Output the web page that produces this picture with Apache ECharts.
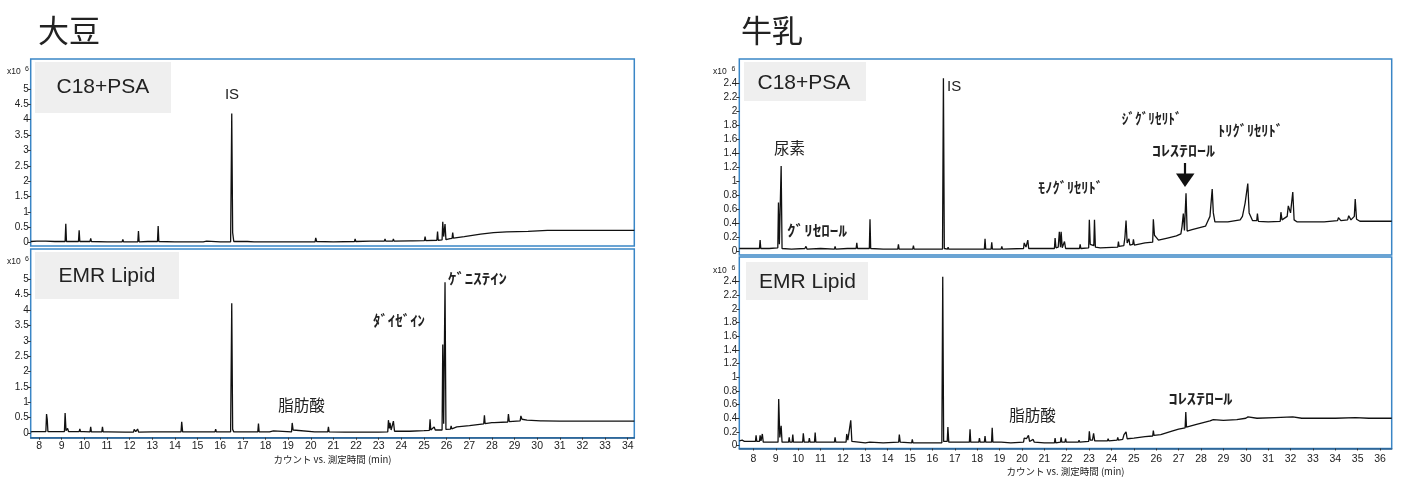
<!DOCTYPE html>
<html><head><meta charset="utf-8">
<script src="https://cdn.jsdelivr.net/npm/echarts@6/dist/echarts.min.js"></script>
<style>html,body{margin:0;padding:0;background:#fff}#c{width:1401px;height:477px}</style>
</head><body><div id="c"></div>
<script>
// ---- tick values ----
const soyTicksX = [8,9,10,11,12,13,14,15,16,17,18,19,20,21,22,23,24,25,26,27,28,29,30,31,32,33,34];
const milkTicksX = [8,9,10,11,12,13,14,15,16,17,18,19,20,21,22,23,24,25,26,27,28,29,30,31,32,33,34,35,36];
const soyTicksY = [0,0.5,1,1.5,2,2.5,3,3.5,4,4.5,5];
const milkTicksY = [0,0.2,0.4,0.6,0.8,1,1.2,1.4,1.6,1.8,2,2.2,2.4];

// ---- chromatograms: [retention time (min), counts x10^6] ----
const soyC18 = [[7.63,0.04],[7.9,0.05],[8.3,0.05],[8.34,0.11],[8.38,0.05],[8.7,0.04],[9.15,0.04],[9.18,0.62],[9.21,0.04],[9.5,0.04],[9.74,0.04],[9.77,0.40],[9.8,0.04],[10.25,0.04],[10.28,0.14],[10.31,0.04],[11.0,0.03],[11.67,0.03],[11.7,0.11],[11.73,0.03],[12.36,0.03],[12.39,0.38],[12.42,0.03],[12.8,0.04],[13.23,0.04],[13.26,0.54],[13.29,0.04],[14.0,0.03],[15.15,0.03],[15.2,0.07],[15.25,0.03],[15.4,0.05],[15.45,0.03],[16.0,0.03],[16.46,0.03],[16.51,4.2],[16.55,0.33],[16.6,0.04],[17.2,0.04],[17.5,0.03],[18.7,0.03],[18.72,0.06],[18.75,0.03],[19.5,0.03],[20.19,0.03],[20.22,0.16],[20.26,0.04],[21.0,0.03],[21.93,0.04],[21.96,0.12],[21.99,0.04],[22.62,0.05],[22.65,0.11],[22.68,0.05],[23.25,0.05],[23.28,0.12],[23.31,0.05],[23.62,0.05],[23.65,0.12],[23.68,0.05],[24.4,0.06],[24.45,0.09],[24.5,0.06],[25.02,0.07],[25.05,0.2],[25.08,0.07],[25.57,0.08],[25.6,0.36],[25.63,0.08],[25.8,0.09],[25.83,0.68],[25.87,0.2],[25.93,0.61],[25.97,0.1],[26.15,0.13],[26.24,0.14],[26.27,0.33],[26.3,0.15],[26.78,0.2],[27.5,0.28],[28.07,0.33],[28.65,0.35],[29.6,0.37],[30.45,0.40],[30.53,0.45],[30.6,0.40],[31.5,0.40],[33,0.40],[34.29,0.40]];

const soyEMR = [[7.63,0.04],[7.72,0.05],[7.75,0.1],[7.78,0.05],[8.3,0.05],[8.33,0.62],[8.36,0.45],[8.39,0.05],[8.8,0.05],[9.12,0.05],[9.15,0.65],[9.19,0.08],[9.26,0.15],[9.3,0.05],[9.41,0.05],[9.44,0.1],[9.47,0.05],[9.77,0.05],[9.8,0.14],[9.83,0.05],[9.97,0.05],[10.0,0.08],[10.03,0.04],[10.25,0.04],[10.28,0.2],[10.31,0.04],[10.47,0.04],[10.5,0.06],[10.53,0.04],[10.77,0.04],[10.8,0.2],[10.83,0.04],[11.05,0.04],[11.8,0.03],[12.17,0.03],[12.2,0.12],[12.27,0.05],[12.35,0.13],[12.4,0.03],[13.0,0.04],[14.27,0.04],[14.3,0.37],[14.34,0.04],[15.2,0.04],[15.77,0.04],[15.8,0.13],[15.83,0.04],[16.46,0.04],[16.51,4.22],[16.55,0.12],[16.6,0.04],[17.17,0.04],[17.2,0.08],[17.23,0.04],[17.66,0.04],[17.69,0.31],[17.72,0.04],[18.18,0.04],[18.2,0.06],[18.35,0.07],[18.4,0.04],[19.15,0.04],[19.18,0.33],[19.22,0.1],[19.26,0.04],[20.17,0.04],[20.2,0.1],[20.23,0.04],[20.75,0.04],[20.78,0.2],[20.81,0.04],[21.5,0.03],[21.85,0.03],[21.88,0.08],[21.91,0.03],[22.17,0.03],[22.2,0.08],[22.23,0.03],[23.0,0.03],[23.4,0.04],[23.43,0.42],[23.47,0.15],[23.5,0.33],[23.55,0.1],[23.65,0.39],[23.7,0.06],[24.37,0.06],[24.4,0.12],[24.43,0.07],[25.0,0.08],[25.24,0.09],[25.27,0.45],[25.3,0.1],[25.45,0.2],[25.5,0.1],[25.8,0.1],[25.83,2.88],[25.87,0.3],[25.93,4.9],[25.97,0.12],[26.17,0.13],[26.2,0.23],[26.23,0.14],[26.45,0.2],[26.5,0.17],[27.01,0.24],[27.04,0.29],[27.07,0.25],[27.64,0.3],[27.67,0.58],[27.7,0.31],[28.0,0.34],[28.05,0.38],[28.1,0.34],[28.7,0.36],[28.73,0.62],[28.77,0.37],[29.25,0.4],[29.28,0.56],[29.33,0.45],[29.55,0.42],[30.15,0.40],[30.2,0.43],[30.25,0.40],[31,0.39],[34.29,0.39]];

const milkC18 = [[7.37,0.04],[7.8,0.04],[8.27,0.04],[8.3,0.16],[8.33,0.04],[8.7,0.04],[9.09,0.05],[9.12,0.70],[9.16,0.1],[9.24,1.22],[9.28,0.04],[9.7,0.03],[10.3,0.04],[10.35,0.07],[10.4,0.03],[11.0,0.04],[11.62,0.03],[11.65,0.07],[11.68,0.03],[12.2,0.04],[12.59,0.04],[12.62,0.12],[12.65,0.04],[13.18,0.04],[13.21,0.46],[13.24,0.04],[13.8,0.03],[14.45,0.03],[14.48,0.1],[14.51,0.03],[15.12,0.03],[15.15,0.08],[15.18,0.03],[15.6,0.03],[16.45,0.03],[16.49,2.48],[16.53,0.04],[16.67,0.03],[16.7,0.06],[16.73,0.03],[17.5,0.03],[18.32,0.03],[18.35,0.18],[18.38,0.03],[18.62,0.03],[18.65,0.13],[18.68,0.03],[19.07,0.03],[19.1,0.07],[19.13,0.03],[20.07,0.04],[20.1,0.12],[20.18,0.06],[20.26,0.16],[20.3,0.04],[21.0,0.04],[21.45,0.04],[21.48,0.19],[21.52,0.05],[21.62,0.06],[21.67,0.28],[21.72,0.06],[21.75,0.28],[21.8,0.05],[21.9,0.14],[21.95,0.04],[22.57,0.04],[22.6,0.1],[22.63,0.04],[22.98,0.05],[23.01,0.45],[23.05,0.1],[23.21,0.08],[23.24,0.45],[23.28,0.06],[23.5,0.05],[24.28,0.06],[24.31,0.14],[24.34,0.07],[24.55,0.08],[24.6,0.2],[24.65,0.44],[24.7,0.12],[24.78,0.18],[24.82,0.09],[24.95,0.1],[24.98,0.17],[25.02,0.09],[25.5,0.12],[25.84,0.13],[25.87,0.46],[25.92,0.23],[26.0,0.2],[26.1,0.16],[26.5,0.19],[26.9,0.22],[27.1,0.25],[27.15,0.35],[27.21,0.54],[27.26,0.3],[27.33,0.83],[27.38,0.29],[27.6,0.31],[28.2,0.36],[28.3,0.43],[28.4,0.5],[28.5,0.89],[28.55,0.55],[28.62,0.42],[29.2,0.42],[29.75,0.45],[29.85,0.5],[29.97,0.69],[30.09,0.97],[30.15,0.55],[30.3,0.44],[30.49,0.44],[30.52,0.54],[30.56,0.43],[31.0,0.42],[31.54,0.43],[31.57,0.56],[31.62,0.45],[31.85,0.5],[31.9,0.65],[32.0,0.55],[32.1,0.85],[32.16,0.45],[32.3,0.42],[33.5,0.42],[34.1,0.44],[34.14,0.48],[34.25,0.44],[34.55,0.45],[34.6,0.51],[34.7,0.45],[34.85,0.5],[34.89,0.75],[34.95,0.46],[35.1,0.43],[36.52,0.43]];

const milkEMR = [[7.37,0.07],[7.5,0.08],[7.6,0.06],[8.09,0.06],[8.12,0.15],[8.15,0.06],[8.27,0.06],[8.3,0.15],[8.34,0.07],[8.4,0.17],[8.44,0.05],[8.8,0.05],[9.1,0.05],[9.13,0.68],[9.18,0.12],[9.24,0.29],[9.28,0.05],[9.57,0.05],[9.6,0.12],[9.63,0.05],[9.73,0.05],[9.76,0.16],[9.79,0.05],[10.2,0.05],[10.23,0.18],[10.27,0.05],[10.47,0.05],[10.5,0.11],[10.53,0.05],[10.73,0.05],[10.76,0.19],[10.79,0.05],[11.2,0.05],[11.62,0.05],[11.65,0.12],[11.68,0.05],[12.14,0.05],[12.17,0.17],[12.22,0.08],[12.35,0.37],[12.4,0.06],[13.0,0.04],[13.2,0.05],[13.8,0.04],[14.49,0.05],[14.52,0.16],[14.56,0.05],[15.07,0.04],[15.1,0.09],[15.13,0.04],[15.8,0.04],[16.42,0.04],[16.46,2.47],[16.5,0.06],[16.66,0.06],[16.69,0.27],[16.73,0.05],[17.17,0.05],[17.2,0.07],[17.23,0.05],[17.65,0.05],[17.68,0.24],[17.71,0.05],[18.07,0.05],[18.1,0.11],[18.13,0.05],[18.32,0.05],[18.35,0.14],[18.38,0.05],[18.64,0.05],[18.67,0.26],[18.7,0.05],[19.07,0.05],[19.1,0.06],[19.5,0.04],[20.07,0.05],[20.1,0.11],[20.2,0.1],[20.29,0.15],[20.34,0.06],[20.5,0.09],[20.55,0.05],[21.0,0.04],[21.45,0.04],[21.48,0.11],[21.51,0.04],[21.72,0.05],[21.75,0.12],[21.78,0.05],[21.92,0.05],[21.95,0.1],[21.98,0.05],[22.52,0.05],[22.55,0.08],[22.58,0.05],[22.98,0.06],[23.01,0.21],[23.05,0.08],[23.15,0.08],[23.2,0.18],[23.25,0.07],[23.6,0.07],[23.82,0.07],[23.85,0.1],[23.88,0.07],[24.25,0.08],[24.28,0.12],[24.31,0.08],[24.5,0.09],[24.56,0.16],[24.65,0.2],[24.7,0.1],[25.0,0.11],[25.5,0.13],[25.84,0.14],[25.87,0.22],[25.9,0.15],[26.2,0.16],[26.7,0.21],[27.0,0.24],[27.29,0.26],[27.32,0.49],[27.35,0.27],[27.8,0.31],[28.4,0.36],[28.55,0.38],[29.0,0.37],[29.6,0.38],[30.0,0.40],[30.1,0.42],[30.5,0.40],[31.3,0.41],[32.1,0.42],[32.5,0.40],[34.0,0.40],[34.9,0.41],[35.5,0.40],[36.52,0.40]];

const panelTitles = ['大豆', '牛乳'];
const methodNames = ['C18+PSA', 'EMR Lipid'];
const xAxisName = 'カウント vs. 測定時間 (min)';

// ---- layout ----
const BLUE = '#3a86c6';
const TXT = '#222';
const grids = [
  {left: 30.7, top: 59, width: 603.6, height: 187},
  {left: 30.7, top: 249, width: 603.6, height: 188.7},
  {left: 739.3, top: 59, width: 652.4, height: 196},
  {left: 739.3, top: 257, width: 652.4, height: 197}
];
const yRanges = [[-0.107, 5.976], [-0.15, 5.985], [-0.053, 2.754], [-0.043, 2.76]];
const xRanges = [[7.63, 34.29], [7.63, 34.29], [7.37, 36.52], [7.37, 36.52]];
const yTicks = [soyTicksY, soyTicksY, milkTicksY, milkTicksY];
const xTicks = [soyTicksX, soyTicksX, milkTicksX, milkTicksX];
const seriesData = [soyC18, soyEMR, milkC18, milkEMR];

const fmt = v => String(v);
const labelFont = 'Liberation Sans, Arial, sans-serif';
const cjkFont = 'Noto Sans CJK JP, sans-serif';

const option = {
  animation: false,
  backgroundColor: '#fff',
  grid: grids.map(g => Object.assign({show: true, borderColor: BLUE, borderWidth: 1.5, backgroundColor: 'transparent', containLabel: false}, g)),
  xAxis: grids.map((g, i) => {
    const bottom = (i === 1 || i === 3);
    return {
      type: 'value', gridIndex: i, min: xRanges[i][0], max: xRanges[i][1],
      splitLine: {show: false},
      axisLine: {show: bottom, lineStyle: {color: '#2a5f8f', width: 1.5}, onZero: false},
      axisTick: {show: bottom, customValues: xTicks[i], length: 2, lineStyle: {color: '#333'}},
      axisLabel: {show: bottom, customValues: xTicks[i], formatter: fmt, fontSize: 10.5, color: TXT,
                  fontFamily: labelFont, margin: i === 1 ? 3 : 5},
      name: bottom ? xAxisName : '', nameLocation: 'middle', nameGap: i === 1 ? 17 : 18,
      nameTextStyle: {fontSize: 9.5, color: TXT, fontFamily: cjkFont}
    };
  }),
  yAxis: grids.map((g, i) => ({
    type: 'value', gridIndex: i, min: yRanges[i][0], max: yRanges[i][1],
    splitLine: {show: false},
    axisLine: {show: false},
    axisTick: {show: true, customValues: yTicks[i], length: 3, lineStyle: {color: '#333'}},
    axisLabel: {customValues: yTicks[i], formatter: fmt, fontSize: 10, color: TXT, fontFamily: labelFont, margin: 2}
  })),
  series: seriesData.map((d, i) => ({
    type: 'line', xAxisIndex: i, yAxisIndex: i, data: d,
    showSymbol: false, symbol: 'none', sampling: null,
    lineStyle: {color: '#111', width: 1.3}
  })),
  graphic: []
};

// ---- annotations (pixel placement) ----
const G = option.graphic;
const measureCtx = document.createElement('canvas').getContext('2d');
function txt(text, x, y, size, opts, targetW) {
  const style = Object.assign({
    text: text, fill: TXT, fontSize: size, fontFamily: cjkFont,
    align: 'center', verticalAlign: 'middle'}, opts || {});
  let sx = 1;
  if (targetW) {
    measureCtx.font = (style.fontWeight || 'normal') + ' ' + size + 'px ' + style.fontFamily;
    const w = measureCtx.measureText(text).width;
    if (w > 0) sx = targetW / w;
  }
  G.push({type: 'text', x: x, y: y, scaleX: sx, silent: true, style: style});
}
function box(x, y, w, h) {
  G.push({type: 'rect', shape: {x: x, y: y, width: w, height: h}, style: {fill: '#efefef'}, silent: true, z: -1});
}
// panel titles
txt(panelTitles[0], 69, 30, 31);
txt(panelTitles[1], 772, 30, 31);
// method boxes
box(35, 62, 136, 51);  txt(methodNames[0], 56.5, 87.5, 21, {align: 'left', fontFamily: labelFont});
box(35, 252, 144, 47); txt(methodNames[1], 58.5, 276.5, 21, {align: 'left', fontFamily: labelFont});
box(744, 62, 122, 39); txt(methodNames[0], 757.5, 83, 21, {align: 'left', fontFamily: labelFont});
box(746, 262, 122, 38); txt(methodNames[1], 759, 282, 21, {align: 'left', fontFamily: labelFont});
// x10^6 markers
[[7, 71.5, 25, 69], [7, 262, 25, 259.5], [713, 71.5, 731.5, 69], [713, 271, 731.5, 268.5]].forEach(p => {
  txt('x10', p[0], p[1], 8.5, {align: 'left', fontFamily: labelFont});
  txt('6', p[2], p[3], 7, {align: 'left', fontFamily: labelFont});
});
const kana = {fontWeight: 'bold'};
// left (soy) peak labels
txt('IS', 232, 95, 15, {fontFamily: labelFont});
txt('脂肪酸', 301.5, 405, 15.5);
txt('ﾀﾞｲｾﾞｲﾝ', 399, 320, 14.5, kana, 52);
txt('ｹﾞﾆｽﾃｲﾝ', 477.5, 278, 14.5, kana, 59);
// right (milk) peak labels
txt('IS', 947, 87, 15, {align: 'left', fontFamily: labelFont});
txt('尿素', 789.5, 148, 15.5);
txt('ｸﾞﾘｾﾛｰﾙ', 817, 230, 14.5, kana, 60);
txt('ﾓﾉｸﾞﾘｾﾘﾄﾞ', 1070.5, 187, 14.5, kana, 65);
txt('ｼﾞｸﾞﾘｾﾘﾄﾞ', 1151.7, 118.3, 14.5, kana, 60);
txt('ﾄﾘｸﾞﾘｾﾘﾄﾞ', 1250.5, 130, 14.5, kana, 65);
txt('ｺﾚｽﾃﾛｰﾙ', 1183.4, 150, 14.5, kana, 63);
txt('脂肪酸', 1032.5, 415, 15.5);
txt('ｺﾚｽﾃﾛｰﾙ', 1200.5, 398, 14.5, kana, 64);
// arrow pointing to cholesterol
G.push({type: 'line', shape: {x1: 1185, y1: 163, x2: 1185, y2: 175}, style: {stroke: '#111', lineWidth: 2.2}, silent: true});
G.push({type: 'polygon', shape: {points: [[1176, 173.5], [1194.5, 173.5], [1185, 187]]}, style: {fill: '#111'}, silent: true});

const chart = echarts.init(document.getElementById('c'), null, {renderer: 'canvas'});
chart.setOption(option);
</script>
</body></html>
